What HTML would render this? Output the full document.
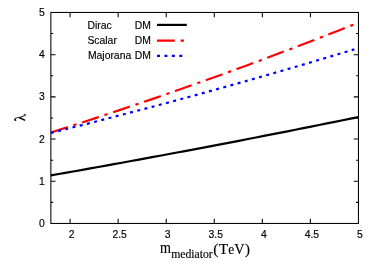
<!DOCTYPE html>
<html><head><meta charset="utf-8"><title>plot</title>
<style>
html,body{margin:0;padding:0;background:#fff;}
body{width:374px;height:267px;overflow:hidden;}
svg{display:block;will-change:transform;}
text{font-family:"Liberation Sans",sans-serif;fill:#000;stroke:#000;stroke-width:0.15px;}
.s{font-family:"Liberation Serif",serif;}
</style></head><body>
<svg width="374" height="267" viewBox="0 0 374 267">
<rect width="374" height="267" fill="#fff"/>
<path d="M50.86 202.35h2.35M358.45 202.35h-2.35M50.86 181.25h4.7M358.45 181.25h-4.7M50.86 160.15h2.35M358.45 160.15h-2.35M50.86 139.05h4.7M358.45 139.05h-4.7M50.86 117.95h2.35M358.45 117.95h-2.35M50.86 96.85h4.7M358.45 96.85h-4.7M50.86 75.75h2.35M358.45 75.75h-2.35M50.86 54.65h4.7M358.45 54.65h-4.7M50.86 33.55h2.35M358.45 33.55h-2.35M70.08 223.45v-4.7M70.08 12.45v4.7M118.15 223.45v-4.7M118.15 12.45v4.7M166.21 223.45v-4.7M166.21 12.45v4.7M214.27 223.45v-4.7M214.27 12.45v4.7M262.33 223.45v-4.7M262.33 12.45v4.7M310.39 223.45v-4.7M310.39 12.45v4.7" stroke="#000" stroke-width="1.05" fill="none"/>
<rect x="50.86" y="12.45" width="307.59" height="211.0" fill="none" stroke="#000" stroke-width="1.05"/>
<text x="44.7" y="227.05" font-size="10.4" text-anchor="end">0</text>
<text x="44.7" y="184.85" font-size="10.4" text-anchor="end">1</text>
<text x="44.7" y="142.65" font-size="10.4" text-anchor="end">2</text>
<text x="44.7" y="100.45" font-size="10.4" text-anchor="end">3</text>
<text x="44.7" y="58.25" font-size="10.4" text-anchor="end">4</text>
<text x="44.7" y="16.05" font-size="10.4" text-anchor="end">5</text>
<text x="71.58" y="238.0" font-size="10.4" text-anchor="middle">2</text>
<text x="119.65" y="238.0" font-size="10.4" text-anchor="middle">2.5</text>
<text x="167.71" y="238.0" font-size="10.4" text-anchor="middle">3</text>
<text x="215.77" y="238.0" font-size="10.4" text-anchor="middle">3.5</text>
<text x="263.83" y="238.0" font-size="10.4" text-anchor="middle">4</text>
<text x="311.89" y="238.0" font-size="10.4" text-anchor="middle">4.5</text>
<text x="359.95" y="238.0" font-size="10.4" text-anchor="middle">5</text>
<path d="M50.86 175.42 L58.75 174.04 L66.63 172.64 L74.52 171.24 L82.41 169.84 L90.29 168.43 L98.18 167.01 L106.07 165.59 L113.96 164.17 L121.84 162.73 L129.73 161.29 L137.62 159.85 L145.50 158.40 L153.39 156.94 L161.28 155.48 L169.16 154.01 L177.05 152.54 L184.94 151.06 L192.82 149.58 L200.71 148.09 L208.60 146.59 L216.49 145.09 L224.37 143.58 L232.26 142.06 L240.15 140.55 L248.03 139.02 L255.92 137.49 L263.81 135.95 L271.69 134.41 L279.58 132.86 L287.47 131.31 L295.35 129.75 L303.24 128.18 L311.13 126.61 L319.02 125.03 L326.90 123.45 L334.79 121.86 L342.68 120.26 L350.56 118.66 L358.45 117.06" stroke="#000" stroke-width="2.2" fill="none"/>
<path d="M50.86 132.45 L58.64 129.98 L66.42 127.50 L74.20 124.99 L81.98 122.48 L89.76 119.94 L97.54 117.39 L105.32 114.83 L113.10 112.25 L120.88 109.65 L128.67 107.04 L136.45 104.41 L144.23 101.76 L152.01 99.10 L159.79 96.42 L167.57 93.73 L175.35 91.02 L183.13 88.29 L190.91 85.55 L198.69 82.79 L206.47 80.02 L214.25 77.23 L222.03 74.42 L229.81 71.60 L237.59 68.77 L245.37 65.91 L253.15 63.04 L260.93 60.16 L268.71 57.26 L276.49 54.34 L284.28 51.41 L292.06 48.46 L299.84 45.49 L307.62 42.51 L315.40 39.51 L323.18 36.50 L330.96 33.47 L338.74 30.42 L346.52 27.36 L354.30 24.28" stroke="#f00" stroke-width="2.2" fill="none" stroke-dasharray="17.7 5.9 3.3 5.8"/>
<path d="M50.86 132.89 L58.64 130.95 L66.42 129.00 L74.20 127.05 L81.98 125.08 L89.76 123.10 L97.54 121.11 L105.32 119.11 L113.10 117.09 L120.88 115.07 L128.67 113.04 L136.45 110.99 L144.23 108.94 L152.01 106.87 L159.79 104.79 L167.57 102.71 L175.35 100.61 L183.13 98.50 L190.91 96.38 L198.69 94.25 L206.47 92.10 L214.25 89.95 L222.03 87.79 L229.81 85.61 L237.59 83.43 L245.37 81.23 L253.15 79.02 L260.93 76.81 L268.71 74.58 L276.49 72.34 L284.28 70.09 L292.06 67.83 L299.84 65.56 L307.62 63.27 L315.40 60.98 L323.18 58.67 L330.96 56.36 L338.74 54.03 L346.52 51.70 L354.30 49.35" stroke="#00f" stroke-width="2.2" fill="none" stroke-dasharray="3.0 4.43"/>
<text x="87.4" y="28.7" font-size="10.4">Dirac</text>
<text x="134.8" y="28.7" font-size="10.4">DM</text>
<path d="M157 24.9H186.8" stroke="#000" stroke-width="2.2" fill="none"/>
<text x="87.4" y="43.8" font-size="10.4">Scalar</text>
<text x="134.8" y="43.8" font-size="10.4">DM</text>
<path d="M157 40.55H186.8" stroke="#f00" stroke-width="2.2" fill="none" stroke-dasharray="17.7 5.9 3.3 5.8"/>
<text x="87.9" y="58.8" font-size="10.4">Majorana</text>
<text x="134.8" y="58.8" font-size="10.4">DM</text>
<path d="M157 55.9H186.8" stroke="#00f" stroke-width="2.2" fill="none" stroke-dasharray="3.0 4.43"/>
<text class="s" transform="translate(160.1 253.1) scale(0.91 1.1)" font-size="15.5">m</text>
<text class="s" x="171.15" y="257.9" font-size="11.7">mediator</text>
<text class="s" transform="translate(213.22 253.6) scale(1.0 1)" font-size="15.5">(</text>
<text class="s" transform="translate(218.76 253.6) scale(1.0 1)" font-size="15.5">T</text>
<text class="s" transform="translate(228.14 253.6) scale(0.87 1)" font-size="15.5">e</text>
<text class="s" transform="translate(234.29 253.6) scale(0.92 1)" font-size="15.5">V</text>
<text class="s" transform="translate(244.88 253.6) scale(0.97 1)" font-size="15.5">)</text>
<g fill="none" stroke="#000" stroke-linecap="round" stroke-linejoin="round"><path d="M15.9 120.7 C15.1 120.6 14.7 120.1 14.8 119.4 C14.9 118.6 15.6 118.3 16.6 118.0 C17.8 117.6 19.0 117.5 20.0 117.3 C21.2 117.0 22.6 116.5 23.8 115.9 C24.5 115.6 25.2 115.7 25.55 115.3 C25.9 114.85 25.5 114.3 24.9 114.25 C24.5 114.22 24.2 114.35 24.0 114.55" stroke-width="0.95"/><path d="M15.2 120.3 C14.8 119.9 14.9 119.3 15.2 118.9" stroke-width="1.3"/><path d="M19.2 117.5 L25.1 120.35" stroke-width="1.45" stroke-linecap="butt"/></g>
</svg>
</body></html>
